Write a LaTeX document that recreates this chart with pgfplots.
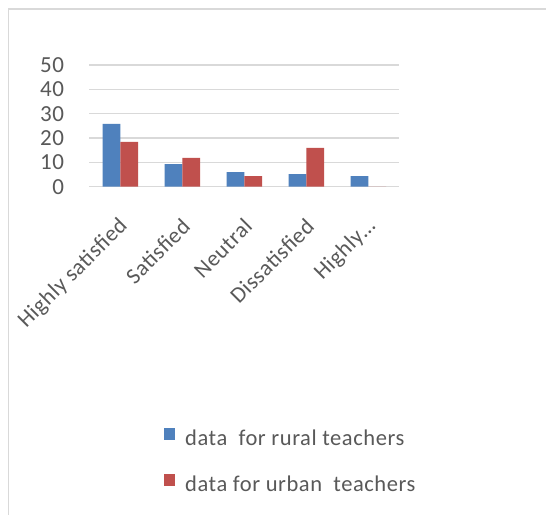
\documentclass[border=0pt]{standalone}
\usepackage{pgfplots}
\pgfplotsset{compat=1.18}
\usepackage{fontspec}
\setmainfont{Carlito}[LetterSpace=2.5]
\definecolor{txt}{HTML}{595959}
\definecolor{gridc}{HTML}{D9D9D9}
\definecolor{framec}{HTML}{D9D9D9}
\definecolor{rural}{HTML}{4F81BD}
\definecolor{urban}{HTML}{C0504D}
\begin{document}
\begin{tikzpicture}
\useasboundingbox (0pt,0pt) rectangle (546pt,514pt);
\fill[white] (0pt,0pt) rectangle (546pt,514pt);
\draw[framec, line width=1.5pt] (8.5pt,-2pt) -- (8.5pt,505pt) -- (548pt,505pt);
\begin{axis}[
  at={(89.3pt,327.3pt)}, anchor=south west,
  scale only axis, width=310pt, height=121.7pt,
  xmin=-0.5, xmax=4.5, ymin=0, ymax=50,
  ybar=0pt, bar width=17.7pt,
  xtick={0,1,2,3,4},
  xticklabels={Highly satisfied, Satisfied, Neutral, Dissatisfied, Highly…},
  ytick={0,10,20,30,40,50},
  axis line style={draw=none},
  major tick length=0pt,
  ymajorgrids, grid style={gridc, line width=1.2pt},
  /pgf/number format/assume math mode=true,
  yticklabel style={font=\fontsize{23}{27}\selectfont, text=txt, anchor=east, inner sep=0pt, xshift=-25pt},
  xticklabel style={font=\fontsize{22.5}{27}\selectfont, text=txt, inner sep=0pt, xshift=4pt, yshift=-36pt, rotate=45, anchor=east},
  legend style={at={(rel axis cs:0.2313,-2.264)}, anchor=west, draw=none, fill=none,
    font=\fontsize{22.5}{27}\selectfont, text=txt, row sep=24pt,
    nodes={inner sep=0pt, text height=15pt, text depth=5pt},
    /tikz/every odd column/.append style={column sep=10pt}},
  legend cell align=left,
  legend image code/.code={\fill[#1] (0pt,0pt) rectangle (11pt,12pt);},
]
\addplot[fill=rural, draw=none] coordinates {(0,25.8) (1,9.3) (2,6.0) (3,5.2) (4,4.3)};
\addplot[fill=urban, draw=none] coordinates {(0,18.4) (1,11.8) (2,4.3) (3,15.9) (4,0)};
\legend{data\ \ for rural teachers, data for urban\ \ teachers}
\end{axis}
\end{tikzpicture}
\end{document}
